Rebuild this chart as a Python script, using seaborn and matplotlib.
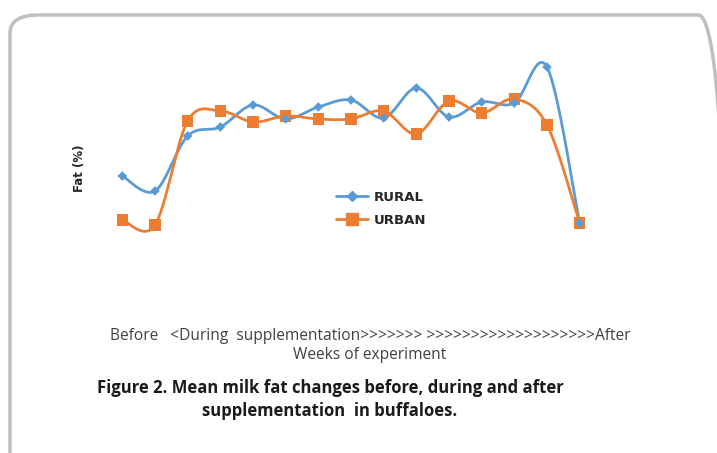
import matplotlib
matplotlib.use('Agg')
import matplotlib.pyplot as plt
from matplotlib.lines import Line2D
from matplotlib.patches import FancyBboxPatch
import numpy as np
import pandas as pd
import seaborn as sns

sns.set_style("white")
plt.rcParams['font.family'] = ['Open Sans', 'DejaVu Sans']

weeks = list(range(15))
rural = [5.94, 5.64, 6.74, 6.92, 7.36, 7.08, 7.32, 7.46, 7.10, 7.70, 7.12, 7.42, 7.40, 8.12, 5.00]
urban = [5.06, 4.96, 7.04, 7.24, 7.02, 7.14, 7.08, 7.08, 7.24, 6.78, 7.44, 7.20, 7.48, 6.96, 5.00]

BLUE = '#5B9BD5'
ORANGE = '#ED7D31'


def smooth(x, y, n=30):
    # excel-like smoothed line (uniform catmull-rom through the points)
    p = np.column_stack([x, y]).astype(float)
    p = np.vstack([p[0], p, p[-1]])
    out = []
    t = np.linspace(0, 1, n, endpoint=False)[:, None]
    for i in range(1, len(p) - 2):
        p0, p1, p2, p3 = p[i - 1], p[i], p[i + 1], p[i + 2]
        seg = 0.5 * ((2 * p1) + (-p0 + p2) * t + (2 * p0 - 5 * p1 + 4 * p2 - p3) * t ** 2
                     + (-p0 + 3 * p1 - 3 * p2 + p3) * t ** 3)
        out.append(seg)
    out.append(p[-2][None, :])
    out = np.vstack(out)
    return out[:, 0], out[:, 1]


curves = []
for name, vals in [('RURAL', rural), ('URBAN', urban)]:
    sx, sy = smooth(weeks, vals)
    curves.append(pd.DataFrame({'x': sx, 'y': sy, 'series': name}))
curve_df = pd.concat(curves, ignore_index=True)
pts = pd.DataFrame({'week': weeks * 2, 'fat': rural + urban,
                    'series': ['RURAL'] * 15 + ['URBAN'] * 15})

fig = plt.figure(figsize=(7.17, 4.53), dpi=100)
W, H = 717, 453

# rounded frame
frame = FancyBboxPatch((10 / W, -0.1), 1.0, (453 - 15) / H + 0.1,
                       boxstyle="round,pad=0,rounding_size=0.04",
                       transform=fig.transFigure, facecolor='none',
                       edgecolor='#BFBFBF', linewidth=2.5, zorder=0)
fig.patches.append(frame)

ax = fig.add_axes([106 / W, 1 - 300 / H, 490 / W, 260 / H])
ax.set_facecolor('none')
ax.set_zorder(2)

sns.lineplot(data=curve_df, x='x', y='y', hue='series', units='series', estimator=None,
             sort=False, palette={'RURAL': BLUE, 'URBAN': ORANGE}, linewidth=2.0,
             legend=False, ax=ax)
sns.scatterplot(data=pts[pts.series == 'URBAN'], x='week', y='fat', color=ORANGE,
                marker='s', s=65, edgecolor='none', legend=False, ax=ax, zorder=3)
sns.scatterplot(data=pts[pts.series == 'RURAL'], x='week', y='fat', color=BLUE,
                marker='D', s=24, edgecolor='none', legend=False, ax=ax, zorder=4)

ax.set_xlim(-0.5, 14.5)
ax.set_ylim(3.46, 8.66)
ax.set_xticks([])
ax.set_yticks([])
ax.set_xlabel('')
ax.set_ylabel('')
for s in ax.spines.values():
    s.set_visible(False)

handles = [Line2D([0], [0], color=BLUE, marker='D', markersize=5, lw=2.0),
           Line2D([0], [0], color=ORANGE, marker='s', markersize=8, lw=2.0)]
leg = ax.legend(handles, ['RURAL', 'URBAN'], loc='center left',
                bbox_to_anchor=((324 - 106) / 490, (300 - 209) / 260), frameon=False,
                handlelength=2.4, handletextpad=0.45, labelspacing=0.75,
                prop={'family': 'DejaVu Sans', 'weight': 'bold', 'size': 9.5})

fig.text(80 / W, 1 - 168 / H, 'Fat (%)', rotation=90, ha='center', va='center',
         fontsize=8.5, fontweight='bold', family='DejaVu Sans')
fig.text(370 / W, 1 - 336 / H,
         'Before   <During  supplementation>>>>>>> >>>>>>>>>>>>>>>>>>>After',
         ha='center', va='center', fontsize=11.2, color='#404040')
fig.text(370 / W, 1 - 355 / H, 'Weeks of experiment', ha='center', va='center',
         fontsize=11.2, color='#404040')
fig.text(330 / W, 1 - 388 / H, 'Figure 2. Mean milk fat changes before, during and after',
         ha='center', va='center', fontsize=12, fontweight='bold', color='#1a1a1a')
fig.text(330 / W, 1 - 411 / H, 'supplementation  in buffaloes.',
         ha='center', va='center', fontsize=12, fontweight='bold', color='#1a1a1a')

fig.savefig('out.png', dpi=100)
